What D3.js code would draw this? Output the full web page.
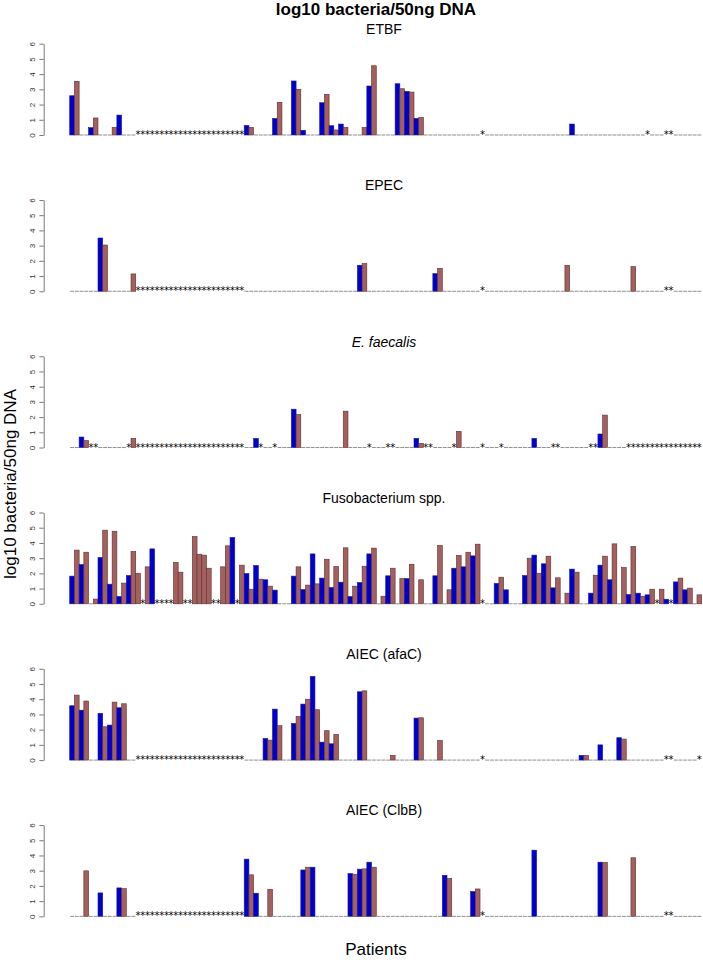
<!DOCTYPE html>
<html>
<head>
<meta charset="utf-8">
<title>log10 bacteria/50ng DNA</title>
<script src="https://d3js.org/d3.v7.min.js"></script>
<style>
body { margin: 0; background: #fff; }
text { font-family: "Liberation Sans", Arial, Helvetica, sans-serif; }
</style>
</head>
<body>
<div id="chart"></div>
<script>
// ---------------- data ----------------
// one slot per sample, left to right; 1 = blue sample, 2 = brown sample
const sampleKind = ("1212121212" + "1212212121" + "2122122222" + "1222122121" +
  "2121212121" + "2121212121" + "2121212121" + "2121212121" + "2121212122" +
  "1212121212" + "1212121212" + "1212121212" + "1212121212" + "1212").split("").map(Number);

const N = null; // not measured -> drawn as "*"

const etbf = [
  2.58,3.53,0,0,0.48,1.12,0,0,0,0.5,
  1.31,0,0,0,N,N,N,N,N,N,
  N,N,N,N,N,N,N,N,N,N,
  N,N,N,N,N,N,N,0.63,0.5,0,
  0,0,0,1.09,2.15,0,0,3.55,3.0,0.31,
  0,0,0,2.12,2.67,0.61,0.33,0.72,0.5,0,
  0,0,0.5,3.22,4.55,0,0,0,0,3.37,
  3.04,2.87,2.82,1.09,1.16,0,0,0,0,0,
  0,0,0,0,0,0,0,N,0,0,
  0,0,0,0,0,0,0,0,0,0,
  0,0,0,0,0,0,0.72,0,0,0,
  0,0,0,0,0,0,0,0,0,0,
  0,0,N,0,0,0,N,N,0,0,
  0,0,0,0];

const epec = [
  0,0,0,0,0,0,3.5,3.04,0,0,
  0,0,0,1.14,N,N,N,N,N,N,
  N,N,N,N,N,N,N,N,N,N,
  N,N,N,N,N,N,N,0,0,0,
  0,0,0,0,0,0,0,0,0,0,
  0,0,0,0,0,0,0,0,0,0,
  0,1.71,1.82,0,0,0,0,0,0,0,
  0,0,0,0,0,0,0,1.16,1.51,0,
  0,0,0,0,0,0,0,N,0,0,
  0,0,0,0,0,0,0,0,0,0,
  0,0,0,0,0,1.71,0,0,0,0,
  0,0,0,0,0,0,0,0,0,1.62,
  0,0,0,0,0,0,N,N,0,0,
  0,0,0,0];

const efaecalis = [
  0,0,0.69,0.46,N,N,0,0,0,0,
  0,0,N,0.6,N,N,N,N,N,N,
  N,N,N,N,N,N,N,N,N,N,
  N,N,N,N,N,N,N,0,0,0.6,
  N,0,0,N,0,0,0,2.52,2.17,0,
  0,0,0,0,0,0,0,0,2.39,0,
  0,0,0,N,0,0,0,N,N,0,
  0,0,0,0.6,0.27,N,N,0,0,0,
  0,N,1.06,0,0,0,0,N,0,0,
  0,N,0,0,0,0,0,0,0.6,0,
  0,0,N,N,0,0,0,0,0,0,
  N,N,0.89,2.13,0,0,0,0,N,N,
  N,N,N,N,N,N,N,N,N,N,
  N,N,N,N];

const fuso = [
  1.82,3.53,2.58,3.39,0,0.31,3.04,4.84,1.29,4.77,
  0.48,1.36,1.86,3.44,2.01,N,2.43,3.61,N,N,
  N,N,2.72,2.08,N,N,4.42,3.26,3.2,2.34,
  N,N,2.43,3.81,4.36,N,2.54,1.99,0.96,2.52,
  1.62,1.58,1.16,0.9,0,0,0,1.82,2.43,0.94,
  1.23,3.28,1.31,1.69,2.93,1.07,2.45,1.42,3.68,0.48,
  1.16,1.4,2.47,3.28,3.66,0,0.5,1.84,2.34,0,
  1.66,1.66,2.6,0,1.58,0,0,1.84,3.83,0,
  0.92,2.34,3.18,2.43,3.39,3.15,3.92,N,0,0,
  1.34,1.75,0.92,0,0,0,1.86,3.0,3.2,2.01,
  2.63,3.13,1.05,1.71,0,0.7,2.28,2.08,0,0,
  0.7,1.88,2.54,3.13,1.58,3.94,0,2.39,0.61,3.77,
  0.7,0.5,0.59,0.96,N,0.96,0.3,N,1.44,1.69,
  0.92,1.03,0,0.59];

const afac = [
  3.57,4.27,3.28,3.88,0,0,3.07,2.19,2.3,3.81,
  3.44,3.7,0,0,N,N,N,N,N,N,
  N,N,N,N,N,N,N,N,N,N,
  N,N,N,N,N,N,N,0,0,0,
  0,1.42,1.31,3.35,2.26,0,0,2.41,2.87,3.68,
  4.0,5.5,3.31,1.18,1.93,1.07,1.69,0,0,0,
  0,4.49,4.55,0,0,0,0,0,0.31,0,
  0,0,0,2.76,2.78,0,0,0,1.29,0,
  0,0,0,0,0,0,0,N,0,0,
  0,0,0,0,0,0,0,0,0,0,
  0,0,0,0,0,0,0,0,0.31,0.31,
  0,0,1.0,0,0,0,1.47,1.38,0,0,
  0,0,0,0,0,0,N,N,0,0,
  0,0,0,N];

const clbb = [
  0,0,0,2.99,0,0,1.54,0,0,0,
  1.87,1.82,0,0,N,N,N,N,N,N,
  N,N,N,N,N,N,N,N,N,N,
  N,N,N,N,N,N,N,3.76,2.73,1.52,
  0,0,1.78,0,0,0,0,0,0,3.05,
  3.23,3.23,0,0,0,0,0,0,0,2.81,
  2.77,3.1,3.12,3.56,3.23,0,0,0,0,0,
  0,0,0,0,0,0,0,0,0,2.7,
  2.48,0,0,0,0,1.63,1.8,N,0,0,
  0,0,0,0,0,0,0,0,4.35,0,
  0,0,0,0,0,0,0,0,0,0,
  0,0,3.56,3.54,0,0,0,0,0,3.85,
  0,0,0,0,0,0,N,N,0,0,
  0,0,0,0];

const panelNames = ["ETBF", "EPEC", "E. faecalis", "Fusobacterium spp.", "AIEC (afaC)", "AIEC (ClbB)"];
const panelValues = [etbf, epec, efaecalis, fuso, afac, clbb];
const yTicks = [0, 1, 2, 3, 4, 5, 6];

// ---------------- layout ----------------
const W = 703, H = 960;
const barLeft = 69.7, barRight = 701.7;
const axisX = 43.7;
const firstBase = 135, panelStep = 156.27, panelH = 91.3;
const colors = {1: "#0000cd", 2: "#a3605e"};
const borders = {1: "#1a1aa0", 2: "#5c2f2e"};

const svg = d3.select("#chart").append("svg")
  .attr("width", W)
  .attr("height", H);

const x = d3.scaleBand()
  .domain(d3.range(sampleKind.length))
  .range([barLeft, barRight])
  .padding(0);

// outer titles
svg.append("text")
  .attr("x", 376).attr("y", 15)
  .attr("text-anchor", "middle")
  .style("font-size", "17px")
  .style("font-weight", "bold")
  .text("log10 bacteria/50ng DNA");

svg.append("text")
  .attr("transform", "translate(15.5,484) rotate(-90)")
  .attr("text-anchor", "middle")
  .style("font-size", "17px")
  .text("log10 bacteria/50ng DNA");

svg.append("text")
  .attr("x", 376).attr("y", 955)
  .attr("text-anchor", "middle")
  .style("font-size", "17px")
  .text("Patients");

// ---------------- panels ----------------
panelValues.forEach(function(values, i) {
  const base = firstBase + i * panelStep;
  const y = d3.scaleLinear().domain([0, 6]).range([base, base - panelH]);
  const g = svg.append("g");

  // y axis, R style: labels turned along the axis
  const ax = g.append("g")
    .attr("transform", "translate(" + axisX + ",0)")
    .call(d3.axisLeft(y).tickValues(yTicks).tickFormat(d3.format("d"))
      .tickSize(4.3).tickSizeOuter(0));
  ax.select(".domain").attr("stroke", "#555").attr("stroke-width", 0.8);
  ax.selectAll(".tick line").attr("stroke", "#555").attr("stroke-width", 0.8);
  ax.selectAll(".tick text")
    .attr("transform", "rotate(-90)")
    .attr("x", 0).attr("y", -8.7).attr("dy", 0)
    .attr("text-anchor", "middle")
    .attr("fill", "#333")
    .style("font-family", "'Liberation Sans', Arial, sans-serif")
    .style("font-size", "8px");

  // panel title
  g.append("text")
    .attr("x", 384).attr("y", base - 101)
    .attr("text-anchor", "middle")
    .style("font-size", "14px")
    .style("font-style", i === 2 ? "italic" : "normal")
    .text(panelNames[i]);

  const rows = values.map(function(v, j) { return {v: v, j: j, k: sampleKind[j]}; });

  // zero values: flat bar drawn as a short grey stroke
  g.selectAll("line.zero")
    .data(rows.filter(function(d) { return d.v === 0; }))
    .enter().append("line")
    .attr("class", "zero")
    .attr("x1", function(d) { return x(d.j) + 0.4; })
    .attr("x2", function(d) { return x(d.j) + x.bandwidth() - 0.4; })
    .attr("y1", y(0)).attr("y2", y(0))
    .attr("stroke", "#8f8f8f")
    .attr("stroke-width", 1);

  // bars
  g.selectAll("rect.bar")
    .data(rows.filter(function(d) { return d.v !== null && d.v > 0; }))
    .enter().append("rect")
    .attr("class", "bar")
    .attr("x", function(d) { return x(d.j); })
    .attr("width", x.bandwidth())
    .attr("y", function(d) { return y(d.v); })
    .attr("height", function(d) { return y(0) - y(d.v); })
    .attr("fill", function(d) { return colors[d.k]; })
    .attr("stroke", function(d) { return borders[d.k]; })
    .attr("stroke-width", 0.6);

  // missing values
  g.selectAll("text.na")
    .data(rows.filter(function(d) { return d.v === null; }))
    .enter().append("text")
    .attr("class", "na")
    .attr("x", function(d) { return x(d.j) + x.bandwidth() / 2; })
    .attr("y", y(0) + 3)
    .attr("text-anchor", "middle")
    .style("font-family", "'DejaVu Sans', sans-serif")
    .style("font-size", "10px")
    .text("*");
});
</script>
</body>
</html>
